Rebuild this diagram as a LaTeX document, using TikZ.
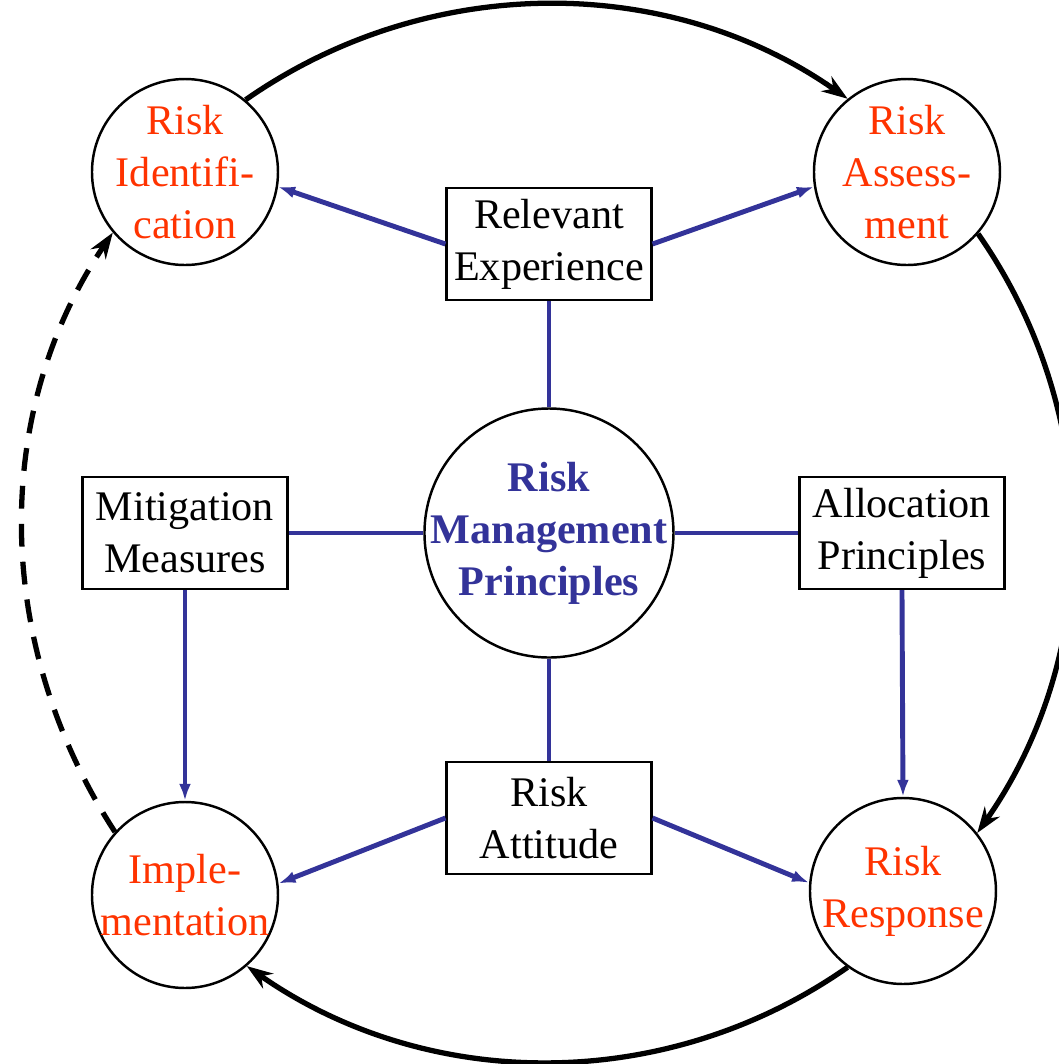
\documentclass[tikz,border=0pt]{standalone}
\usepackage{fontspec}
\setmainfont{Liberation Serif}
\usetikzlibrary{arrows.meta}
\definecolor{riskred}{RGB}{255,51,0}
\definecolor{riskblue}{RGB}{51,51,153}

\begin{document}
\begin{tikzpicture}[
  font=\fontsize{12}{14.8}\selectfont,
  phase/.style={draw,circle,line width=0.7pt,minimum size=1.86cm,inner sep=-6pt,text=riskred,align=center},
  factor/.style={draw,rectangle,line width=0.6pt,minimum width=2.05cm,minimum height=1.12cm,inner sep=2pt,align=center},
  link/.style={riskblue,line width=1.4pt},
  feed/.style={link,-{Latex[length=1.7mm,width=1.2mm]}},
  loopline/.style={line width=1.5pt,-{Stealth[length=2.6mm,width=1.8mm]},looseness=0.94}]
\clip (-5.49,-5.31) rectangle (5.10,5.33);
\node[draw,circle,line width=0.7pt,minimum size=2.49cm,inner sep=-6pt,text=riskblue,font=\fontsize{12}{14.8}\selectfont\bfseries,align=center] (rmp) at (0,0) {Risk\\Management\\Principles};
\node[phase] (riskid)  at (-3.64,3.61)  {Risk\\Identifi-\\cation};
\node[phase] (riskass) at (3.58,3.61)   {Risk\\Assess-\\ment};
\node[phase] (resp)    at (3.54,-3.58)  {Risk\\Response};
\node[phase] (impl)    at (-3.64,-3.62) {Imple-\\mentation};
\node[factor] (relexp)  at (0,2.89)   {Relevant\\Experience};
\node[factor] (mitig)   at (-3.64,0)  {Mitigation\\Measures};
\node[factor] (alloc)   at (3.53,0)   {Allocation\\Principles};
\node[factor] (riskatt) at (0,-2.85)  {Risk\\Attitude};
\draw[link] (relexp) -- (rmp);
\draw[link] (mitig) -- (rmp);
\draw[link] (rmp) -- (alloc);
\draw[link] (rmp) -- (riskatt);
\draw[feed] (relexp.west) -- (riskid.-9);
\draw[feed] (relexp.east) -- (riskass.189);
\draw[feed] (mitig.south) -- (impl.north);
\draw[feed] (alloc.south) -- (resp.north);
\draw[feed] (riskatt.west) -- (impl.7);
\draw[feed] (riskatt.east) -- (resp.175);
\draw[loopline] (riskid.50) to[out=35,in=145] (riskass.129);
\draw[loopline] (riskass.-41) to[out=-55,in=55] (resp.38);
\draw[loopline] (resp.234) to[out=-145,in=-35] (impl.-49);
\draw[loopline,dash pattern=on 6.5pt off 4.3pt] (impl.138) to[out=123,in=-124] (riskid.220);
\end{tikzpicture}
\end{document}
